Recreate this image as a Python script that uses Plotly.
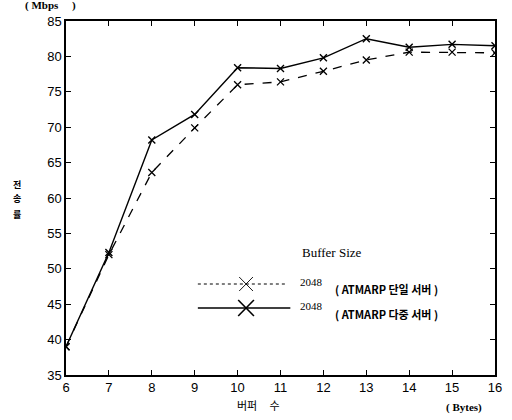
import plotly.graph_objects as go

buffer_exp = [6, 7, 8, 9, 10, 11, 12, 13, 14, 15, 16]
single_server = [39.0, 52.0, 63.6, 69.9, 76.0, 76.4, 77.9, 79.5, 80.6, 80.6, 80.5]
multi_server = [39.0, 52.3, 68.2, 71.8, 78.4, 78.3, 79.8, 82.5, 81.3, 81.7, 81.5]
x_ticks = [6, 7, 8, 9, 10, 11, 12, 13, 14, 15, 16]
y_ticks = [35, 40, 45, 50, 55, 60, 65, 70, 75, 80, 85]

W, H = 512, 420
L, R, T, B = 66, 10, 21, 45
PW, PH = W - L - R, H - T - B


def px(xp):
    return (xp - L) / PW


def py(yp):
    return (H - B - yp) / PH


fig = go.Figure()
fig.add_trace(go.Scatter(x=buffer_exp, y=single_server, mode="lines+markers",
                         line=dict(color="black", width=1.3, dash="dash"),
                         marker=dict(symbol="x-thin", size=7, line=dict(color="black", width=1.3)),
                         showlegend=False))
fig.add_trace(go.Scatter(x=buffer_exp, y=multi_server, mode="lines+markers",
                         line=dict(color="black", width=1.4),
                         marker=dict(symbol="x-thin", size=7, line=dict(color="black", width=1.4)),
                         showlegend=False))

shapes = []
# legend line samples
shapes.append(dict(type="line", xref="paper", yref="paper", x0=px(200), x1=px(291), y0=py(284), y1=py(284),
                   line=dict(color="black", width=1, dash="dot")))
shapes.append(dict(type="line", xref="paper", yref="paper", x0=px(200), x1=px(294), y0=py(308), y1=py(308),
                   line=dict(color="black", width=1.3)))
for cy, s, w in [(284, 7, 0.9), (308, 8, 1.6)]:
    shapes.append(dict(type="line", xref="paper", yref="paper", x0=px(249 - s), x1=px(249 + s),
                       y0=py(cy - s), y1=py(cy + s), line=dict(color="black", width=w)))
    shapes.append(dict(type="line", xref="paper", yref="paper", x0=px(249 - s), x1=px(249 + s),
                       y0=py(cy + s), y1=py(cy - s), line=dict(color="black", width=w)))

ann = []
def add_text(text, xp, yp, size=12, family="Liberation Serif", xanchor="left", bold=False):
    ann.append(dict(text=f"<b>{text}</b>" if bold else text, x=px(xp), y=py(yp), xref="paper", yref="paper",
                    showarrow=False, xanchor=xanchor, yanchor="middle",
                    font=dict(size=size, family=family, color="black")))

add_text("Buffer Size", 304, 252, size=13)
add_text("2048", 302, 282, size=11)
add_text("2048", 302, 306, size=11)
add_text("( ATMARP 단일 서버 )", 337, 289, size=11, family="Noto Sans CJK KR, Liberation Serif", bold=True)
add_text("( ATMARP 다중 서버 )", 337, 314, size=11, family="Noto Sans CJK KR, Liberation Serif", bold=True)
add_text("( Mbps     )", 22, 6, size=11, bold=True)
add_text("( Bytes)", 450, 407, size=11, bold=True)
add_text("버퍼     수", 262, 405, size=11, family="Noto Sans CJK KR", xanchor="center")
for ch, yy in zip(["전", "송", "률"], [184, 199, 214]):
    ann.append(dict(text=f"<b>{ch}</b>", x=px(16), y=py(yy), xref="paper", yref="paper", showarrow=False,
                    xanchor="center", yanchor="middle", borderpad=0,
                    font=dict(size=9, family="Noto Sans CJK KR", color="black")))

fig.update_layout(
    width=W, height=H,
    margin=dict(l=L, r=R, t=T, b=B),
    paper_bgcolor="white", plot_bgcolor="white",
    shapes=shapes, annotations=ann,
    xaxis=dict(range=[6, 16], tickvals=x_ticks, ticks="inside", ticklen=5, tickcolor="black",
               showline=True, linecolor="black", linewidth=1.5, mirror="ticks", showgrid=False,
               zeroline=False, tickfont=dict(family="Liberation Sans", size=13, color="black")),
    yaxis=dict(range=[35, 85], tickvals=y_ticks, ticks="inside", ticklen=5, tickcolor="black",
               showline=True, linecolor="black", linewidth=1.5, mirror="ticks", showgrid=False,
               zeroline=False, tickfont=dict(family="Liberation Sans", size=13, color="black")),
)
fig.write_html("out.html", config={"displayModeBar": False},
               post_script="document.body.style.margin='0';document.body.style.overflow='hidden';")
